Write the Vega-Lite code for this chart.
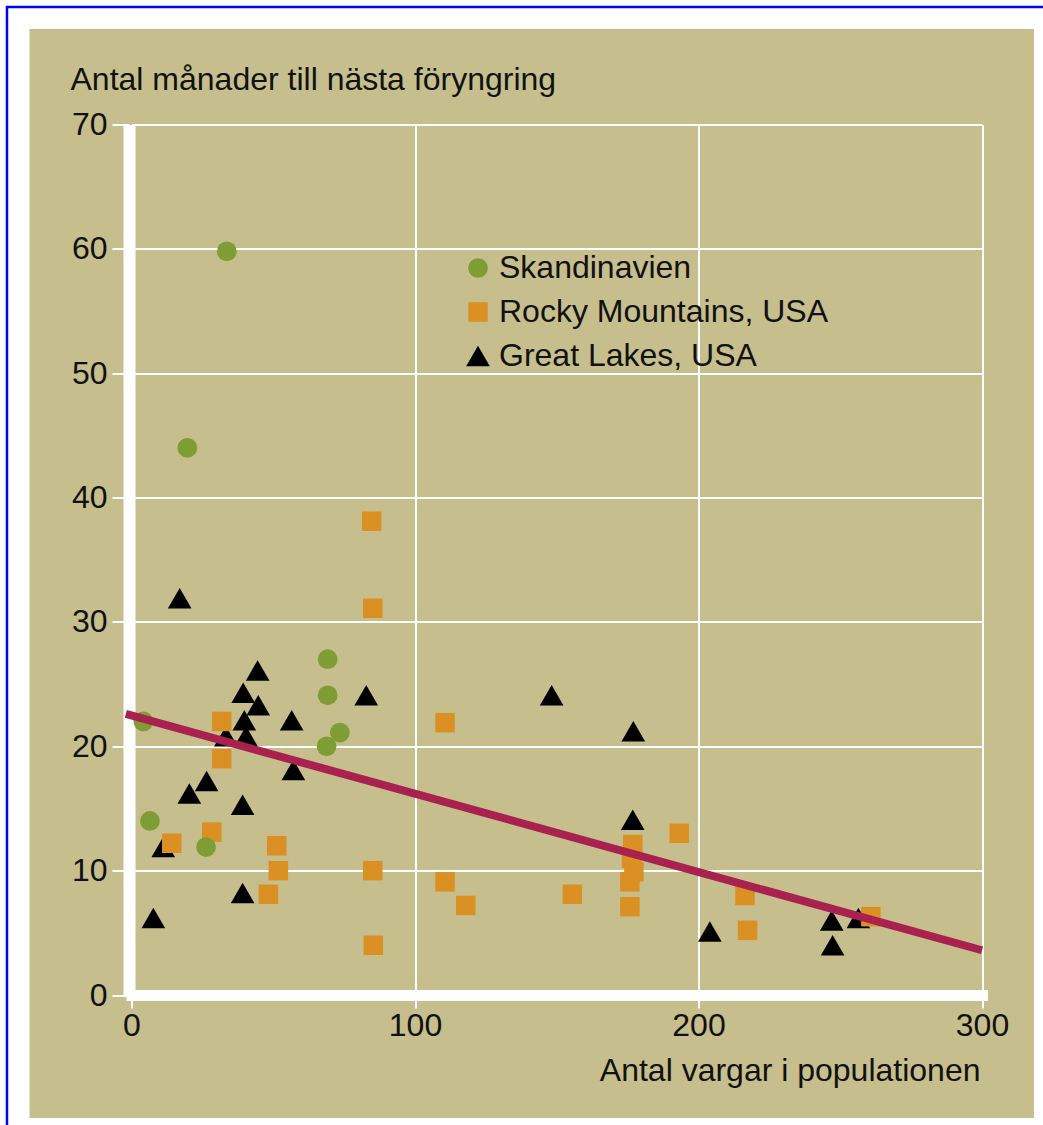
{
  "$schema": "https://vega.github.io/schema/vega-lite/v6.json",
  "autosize": {"type": "none"},
  "width": 850.5,
  "height": 870.5,
  "padding": {"left": 131.5, "top": 124.5, "right": 61, "bottom": 130},
  "background": "#c6be8d",
  "config": {
    "view": {"stroke": null},
    "font": "Liberation Sans",
    "legend": {
      "orient": "none",
      "legendX": 330.5,
      "legendY": 127.5,
      "padding": 0,
      "labelFontSize": 32,
      "labelFont": "Liberation Sans",
      "labelColor": "#111111",
      "labelOffset": 5,
      "labelLimit": 0,
      "rowPadding": 12,
      "symbolStrokeWidth": 0
    }
  },
  "layer": [
    {
      "data": {"values": [{}]},
      "mark": {"type": "rect", "fill": "transparent", "stroke": "#ffffff", "strokeWidth": 60, "clip": false},
      "encoding": {
        "x": {"datum": -46.56, "type": "quantitative"},
        "x2": {"datum": 328.92},
        "y": {"datum": 80.09, "type": "quantitative"},
        "y2": {"datum": -12.3}
      }
    },
    {
      "data": {"values": [{}]},
      "mark": {"type": "rect", "fill": "transparent", "stroke": "#0000ff", "strokeWidth": 2.5, "clip": false},
      "encoding": {
        "x": {"datum": -43.92, "type": "quantitative"},
        "x2": {"datum": 341.6},
        "y": {"datum": 79.45, "type": "quantitative"},
        "y2": {"datum": -16.49}
      }
    },
    {
      "data": {
        "values": [
          {"region": "Great Lakes, USA", "wolves": 17, "months": 31.9},
          {"region": "Great Lakes, USA", "wolves": 44.5, "months": 26.1},
          {"region": "Great Lakes, USA", "wolves": 39.4, "months": 24.3},
          {"region": "Great Lakes, USA", "wolves": 44.7, "months": 23.3},
          {"region": "Great Lakes, USA", "wolves": 39.8, "months": 22.1},
          {"region": "Great Lakes, USA", "wolves": 56.5, "months": 22.1},
          {"region": "Great Lakes, USA", "wolves": 40.4, "months": 20.8},
          {"region": "Great Lakes, USA", "wolves": 33.3, "months": 20.8},
          {"region": "Great Lakes, USA", "wolves": 82.8, "months": 24.1},
          {"region": "Great Lakes, USA", "wolves": 57.1, "months": 18.1},
          {"region": "Great Lakes, USA", "wolves": 26.5, "months": 17.2},
          {"region": "Great Lakes, USA", "wolves": 20.4, "months": 16.2},
          {"region": "Great Lakes, USA", "wolves": 39.2, "months": 15.3},
          {"region": "Great Lakes, USA", "wolves": 11.2, "months": 11.9},
          {"region": "Great Lakes, USA", "wolves": 39.2, "months": 8.2},
          {"region": "Great Lakes, USA", "wolves": 7.7, "months": 6.2},
          {"region": "Great Lakes, USA", "wolves": 148.2, "months": 24.1},
          {"region": "Great Lakes, USA", "wolves": 177, "months": 21.2},
          {"region": "Great Lakes, USA", "wolves": 176.8, "months": 14.1},
          {"region": "Great Lakes, USA", "wolves": 204, "months": 5.1},
          {"region": "Great Lakes, USA", "wolves": 247, "months": 6.0},
          {"region": "Great Lakes, USA", "wolves": 256.4, "months": 6.2},
          {"region": "Great Lakes, USA", "wolves": 247.3, "months": 4.0},
          {"region": "Rocky Mountains, USA", "wolves": 14.2, "months": 12.2},
          {"region": "Rocky Mountains, USA", "wolves": 28.3, "months": 13.1},
          {"region": "Rocky Mountains, USA", "wolves": 31.8, "months": 22.0},
          {"region": "Rocky Mountains, USA", "wolves": 31.8, "months": 19.0},
          {"region": "Rocky Mountains, USA", "wolves": 48.3, "months": 8.1},
          {"region": "Rocky Mountains, USA", "wolves": 51.2, "months": 12.0},
          {"region": "Rocky Mountains, USA", "wolves": 51.8, "months": 10.0},
          {"region": "Rocky Mountains, USA", "wolves": 84.7, "months": 38.1},
          {"region": "Rocky Mountains, USA", "wolves": 85.1, "months": 31.1},
          {"region": "Rocky Mountains, USA", "wolves": 85.1, "months": 10.0},
          {"region": "Rocky Mountains, USA", "wolves": 85.3, "months": 4.0},
          {"region": "Rocky Mountains, USA", "wolves": 110.6, "months": 21.9},
          {"region": "Rocky Mountains, USA", "wolves": 110.6, "months": 9.1},
          {"region": "Rocky Mountains, USA", "wolves": 117.9, "months": 7.2},
          {"region": "Rocky Mountains, USA", "wolves": 155.5, "months": 8.1},
          {"region": "Rocky Mountains, USA", "wolves": 176.8, "months": 12.1},
          {"region": "Rocky Mountains, USA", "wolves": 176.4, "months": 11.0},
          {"region": "Rocky Mountains, USA", "wolves": 177.2, "months": 9.9},
          {"region": "Rocky Mountains, USA", "wolves": 175.8, "months": 9.1},
          {"region": "Rocky Mountains, USA", "wolves": 175.8, "months": 7.1},
          {"region": "Rocky Mountains, USA", "wolves": 193.2, "months": 13.0},
          {"region": "Rocky Mountains, USA", "wolves": 216.4, "months": 8.0},
          {"region": "Rocky Mountains, USA", "wolves": 217.3, "months": 5.2},
          {"region": "Rocky Mountains, USA", "wolves": 260.8, "months": 6.3},
          {"region": "Skandinavien", "wolves": 4.2, "months": 22.0},
          {"region": "Skandinavien", "wolves": 33.6, "months": 59.8},
          {"region": "Skandinavien", "wolves": 19.7, "months": 44.0},
          {"region": "Skandinavien", "wolves": 6.5, "months": 14.0},
          {"region": "Skandinavien", "wolves": 26.3, "months": 11.9},
          {"region": "Skandinavien", "wolves": 69.2, "months": 27.0},
          {"region": "Skandinavien", "wolves": 69.2, "months": 24.1},
          {"region": "Skandinavien", "wolves": 73.5, "months": 21.1},
          {"region": "Skandinavien", "wolves": 68.8, "months": 20.0}
        ]
      },
      "mark": {"type": "point", "filled": true, "opacity": 1, "strokeWidth": 0},
      "encoding": {
        "x": {
          "field": "wolves",
          "type": "quantitative",
          "scale": {"domain": [0, 300], "nice": false, "zero": false},
          "axis": {
            "values": [0, 100, 200, 300],
            "title": "Antal vargar i populationen",
            "titleFont": "Liberation Sans",
            "titleFontSize": 32,
            "titleFontWeight": "normal",
            "titleColor": "#111111",
            "titleX": 848.5,
            "titleY": 85,
            "titleAlign": "right",
            "titleBaseline": "alphabetic",
            "domain": true,
            "domainColor": "#ffffff",
            "domainWidth": 11,
            "domainCap": "square",
            "grid": true,
            "gridColor": "#ffffff",
            "gridWidth": 2,
            "gridOpacity": 1,
            "ticks": true,
            "tickColor": "#ffffff",
            "tickWidth": 2,
            "tickSize": 13,
            "labelFlush": false,
            "labelFont": "Liberation Sans",
            "labelFontSize": 32,
            "labelColor": "#111111",
            "labelPadding": 2
          }
        },
        "y": {
          "field": "months",
          "type": "quantitative",
          "scale": {"domain": [0, 70], "nice": false, "zero": false},
          "axis": {
            "values": [0, 10, 20, 30, 40, 50, 60, 70],
            "title": "Antal månader till nästa föryngring",
            "titleFont": "Liberation Sans",
            "titleFontSize": 32,
            "titleFontWeight": "normal",
            "titleColor": "#111111",
            "titleAngle": 0,
            "titleX": -59,
            "titleY": -35.5,
            "titleAlign": "left",
            "titleBaseline": "alphabetic",
            "offset": 2.5,
            "domain": true,
            "domainColor": "#ffffff",
            "domainWidth": 12,
            "domainCap": "butt",
            "grid": true,
            "gridColor": "#ffffff",
            "gridWidth": 2,
            "gridOpacity": 1,
            "ticks": true,
            "tickColor": "#ffffff",
            "tickWidth": 2,
            "tickSize": 17,
            "labelFont": "Liberation Sans",
            "labelFontSize": 32,
            "labelColor": "#111111",
            "labelPadding": 5
          }
        },
        "color": {
          "field": "region",
          "type": "nominal",
          "scale": {
            "domain": ["Skandinavien", "Rocky Mountains, USA", "Great Lakes, USA"],
            "range": ["#7e9d35", "#da9022", "#000000"]
          },
          "legend": {"title": null}
        },
        "shape": {
          "field": "region",
          "type": "nominal",
          "scale": {
            "domain": ["Skandinavien", "Rocky Mountains, USA", "Great Lakes, USA"],
            "range": ["circle", "square", "triangle-up"]
          },
          "legend": {"title": null}
        },
        "size": {
          "field": "region",
          "type": "nominal",
          "scale": {
            "type": "ordinal",
            "domain": ["Skandinavien", "Rocky Mountains, USA", "Great Lakes, USA"],
            "range": [390, 380, 560]
          },
          "legend": {"title": null}
        }
      }
    },
    {
      "data": {
        "values": [
          {"wolves": -2, "months": 22.6},
          {"wolves": 300, "months": 3.6}
        ]
      },
      "mark": {"type": "line", "color": "#a8214f", "strokeWidth": 8, "strokeCap": "butt", "clip": false},
      "encoding": {
        "x": {"field": "wolves", "type": "quantitative"},
        "y": {"field": "months", "type": "quantitative"}
      }
    }
  ]
}
